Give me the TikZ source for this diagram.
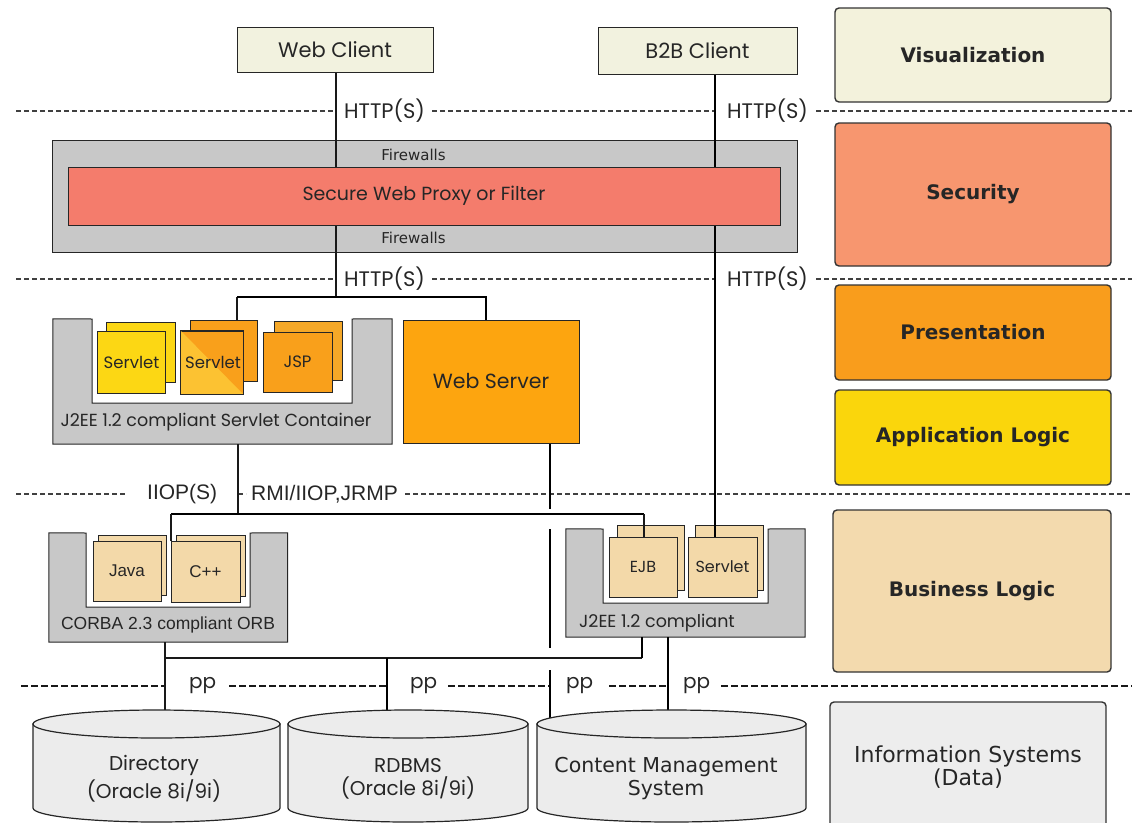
\documentclass[tikz,border=0pt]{standalone}
\usepackage{fontspec}
\setmainfont{Poppins}
\newfontfamily\lib{Liberation Sans}
\newfontfamily\dvs{DejaVu Sans}
\usetikzlibrary{calc}
\definecolor{cVis}{HTML}{F3F2DC}
\definecolor{cSec}{HTML}{F7966F}
\definecolor{cPres}{HTML}{F99D1C}
\definecolor{cApp}{HTML}{FAD60C}
\definecolor{cBus}{HTML}{F3DAAE}
\definecolor{cInfo}{HTML}{EDEDED}
\definecolor{cClient}{HTML}{F2F2DF}
\definecolor{cGray}{HTML}{C8C8C8}
\definecolor{cProxy}{HTML}{F47C6C}
\definecolor{cWS}{HTML}{FDA50F}
\definecolor{cYel}{HTML}{FCD714}
\definecolor{cYo}{HTML}{FCC232}
\definecolor{cOr}{HTML}{F9A01B}
\definecolor{cOrB}{HTML}{F5A828}
\definecolor{cWheat}{HTML}{F3D9A9}
\definecolor{cCyl}{HTML}{ECECEC}
\pgfdeclarelayer{bg}
\pgfdeclarelayer{mid}
\pgfsetlayers{bg,mid,main}
\newcommand{\dbcyl}[3]{%
  \path[fill=cCyl,draw=black!85,line width=1.2pt] (#2-#3,724) -- (#2-#3,808)
     arc[start angle=180,end angle=0,x radius=#3,y radius=14] -- (#2+#3,724) -- cycle;
  \path[fill=cCyl,draw=black!85,line width=1.2pt] (#2,724) ellipse [x radius=#3,y radius=14];
  \node[minimum width=2*#3,minimum height=84,inner sep=0pt] (#1) at (#2,766) {};
}
\begin{document}
\begin{tikzpicture}[x=1pt,y=-1pt,
  box/.style={draw=black!85,line width=1pt,inner sep=0pt},
  layerbox/.style={draw=black!80,line width=1.4pt,rounded corners=4pt,inner sep=0pt,
      text=black!85,font=\dvs\bfseries\fontsize{20}{24}\selectfont},
  sep/.style={draw=black!75,line width=1.1pt,dash pattern=on 5pt off 3pt},
  sepb/.style={draw=black!90,line width=2.6pt,dash pattern=on 7pt off 3pt},
  thinl/.style={draw=black!90,line width=1.4pt},
  medl/.style={draw=black!90,line width=1.9pt},
  thickl/.style={draw=black,line width=2.8pt},
  pop/.style={font=\fontsize{#1}{#1}\selectfont,text=black!85,inner sep=0pt},
  ari/.style={font=\lib\fontsize{#1}{#1}\selectfont,text=black!85,inner sep=0pt},
  dej/.style={font=\dvs\fontsize{#1}{#1}\selectfont,text=black!85,inner sep=0pt},
]
\useasboundingbox (0,0) rectangle (1132,822);
\begin{pgfonlayer}{bg}
\fill[white] (0,0) rectangle (1132,822);
% separators
\draw[sep] (16,111) -- (336,111);
\node[pop=21,anchor=west] (http1) at (344,111) {HTTP(S)};
\draw[sep] ([xshift=7pt]http1.east) -- (715,111);
\node[pop=21,anchor=west] (http2) at (727,111) {HTTP(S)};
\draw[sep] ([xshift=8pt]http2.east) -- (1132,111);
\draw[sep] (16,279) -- (336,279);
\node[pop=21,anchor=west] (http3) at (344,279) {HTTP(S)};
\draw[sep] ([xshift=7pt]http3.east) -- (715,279);
\node[pop=21,anchor=west] (http4) at (727,279) {HTTP(S)};
\draw[sep] ([xshift=8pt]http4.east) -- (1132,279);
\draw[sep] (16,494) -- (126,494);
\node[ari=21,anchor=west] (iiop) at (147,494) {IIOP(S)};
\draw[sep] (238,494) -- (246,494);
\node[ari=21,anchor=west] (rmi) at (251,494) {RMI/IIOP,JRMP};
\draw[sep] ([xshift=7pt]rmi.east) -- (1132,494);
\draw[sepb] (21,686) -- (165,686);
\node[pop=20,anchor=west] (pp1) at (189,686) {pp};
\draw[sepb] (229,686) -- (387,686);
\node[pop=20,anchor=west] (pp2) at (410,686) {pp};
\draw[sepb] (448,686) -- (550,686);
\node[pop=20,anchor=west] (pp3) at (566,686) {pp};
\draw[sepb] (609,686) -- (668,686);
\node[pop=20,anchor=west] (pp4) at (683,686) {pp};
\draw[sepb] (721,686) -- (1132,686);
% containers
\node[box,fill=cGray,minimum width=745,minimum height=112] (fwall) at (424.5,196) {};
\node[minimum width=339,minimum height=125,inner sep=0pt] (sc) at (222.5,381.5) {};
\draw[box,fill=cGray] (sc.north west) -- (92,319) -- (92,403) -- (352,403) -- (352,319)
   -- (sc.north east) -- (sc.south east) -- (sc.south west) -- cycle;
\node[minimum width=238.5,minimum height=109,inner sep=0pt] (corba) at (168.25,587.5) {};
\draw[box,fill=cGray] (corba.north west) -- (86,533) -- (86,607) -- (250,607) -- (250,533)
   -- (corba.north east) -- (corba.south east) -- (corba.south west) -- cycle;
\node[minimum width=239,minimum height=108,inner sep=0pt] (j2ee) at (685.5,583) {};
\draw[box,fill=cGray] (j2ee.north west) -- (603,529) -- (603,603) -- (768,603) -- (768,529)
   -- (j2ee.north east) -- (j2ee.south east) -- (j2ee.south west) -- cycle;
% back boxes
\node[box,fill=cYel,minimum width=69,minimum height=60] (s1b) at (140.5,352) {};
\node[box,fill=cOr,minimum width=67,minimum height=61] (s2b) at (223.5,350.5) {};
\node[box,fill=cOrB,minimum width=68,minimum height=59] (jspb) at (308,350.5) {};
\node[box,fill=cWheat,minimum width=68,minimum height=60] (javab) at (132,565) {};
\node[box,fill=cWheat,minimum width=69,minimum height=61] (cppb) at (210.5,565.5) {};
\node[box,fill=cWheat,minimum width=67,minimum height=65] (ejbb) at (650.5,557.5) {};
\node[box,fill=cWheat,minimum width=68,minimum height=65] (ejsb) at (729,557.5) {};
\end{pgfonlayer}

% right column
\node[layerbox,fill=cVis,minimum width=276,minimum height=94] (vis) at (973,55) {Visualization};
\node[layerbox,fill=cSec,minimum width=276,minimum height=143] (sec) at (973,194.5) {Security};
\node[layerbox,fill=cPres,minimum width=276,minimum height=95] (pres) at (973,332.5) {Presentation};
\node[layerbox,fill=cApp,minimum width=276,minimum height=95] (app) at (973,437.5) {Application Logic};
\node[layerbox,fill=cBus,minimum width=278,minimum height=162] (bus) at (972,591) {Business Logic};
\node[layerbox,fill=cInfo,minimum width=276,minimum height=130,dej=22,align=center] (info) at (968,767)
   {Information Systems\\[1pt](Data)};

% clients
\node[box,fill=cClient,minimum width=196,minimum height=45,pop=21] (webc) at (335,49.5) {Web Client};
\node[box,fill=cClient,minimum width=199,minimum height=47,pop=21] (b2b) at (697.5,50.5) {B2B Client};

% security
\node[box,fill=cProxy,minimum width=712,minimum height=58,pop=19] (proxy) at (424,196) {Secure Web Proxy or Filter};
\node[dej=15] (fw1) at (413.5,155) {Firewalls};
\node[dej=15] (fw2) at (413.5,238) {Firewalls};

% servlet container
\node[pop=17.5] (sclbl) at (216,422) {J2EE 1.2 compliant Servlet Container};
\node[box,fill=cYel,minimum width=68,minimum height=62,pop=16.5] (s1f) at (131.5,362.5) {Servlet};
\node[box,fill=cOr,minimum width=62,minimum height=63] (s2f) at (212,362.5) {};
\fill[cYo] (s2f.north west) -- (s2f.south east) -- (s2f.south west) -- cycle;
\draw[box] (s2f.north west) rectangle (s2f.south east);
\node[pop=16.5] (s2t) at (213,362.5) {Servlet};
\node[box,fill=cOr,minimum width=69,minimum height=60,pop=16.5] (jspf) at (297.5,362) {JSP};
\node[box,fill=cWS,minimum width=176,minimum height=123,pop=20.5] (ws) at (491,381.5) {Web Server};

% corba
\node[ari=17.5] (corbalbl) at (168,625) {CORBA 2.3 compliant ORB};
\node[box,fill=cWheat,minimum width=68,minimum height=60,ari=17] (javaf) at (127,571) {Java};
\node[box,fill=cWheat,minimum width=69,minimum height=61,ari=17] (cppf) at (205.5,571.5) {C++};

% j2ee
\node[pop=17.5] (j2lbl) at (657,623) {J2EE 1.2 compliant};
\node[box,fill=cWheat,minimum width=68,minimum height=60,pop=16] (ejbf) at (643,567) {EJB};
\node[box,fill=cWheat,minimum width=69,minimum height=60,pop=16] (ejsf) at (722.5,567) {Servlet};

% data stores
\dbcyl{dir}{156.5}{123.5}
\dbcyl{rdb}{408}{120}
\dbcyl{cms}{671.5}{134.5}
\node[pop=20,align=center] (dirt) at (154,778.5) {Directory\\[3pt](Oracle 8i/9i)};
\node[pop=20,align=center] (rdbt) at (408,778.5) {RDBMS\\[3pt](Oracle 8i/9i)};
\node[dej=20.5,align=center] (cmst) at (666,778.5) {Content Management\\[2.5pt]System};

% connectors
\begin{pgfonlayer}{mid}
\coordinate (j1) at (336,297);
\coordinate (b1a) at (237,297);
\coordinate (b1b) at (486,297);
\draw[thinl] (webc.south -| j1) -- (j1);
\draw[thinl] (b1a) -- (b1a |- s2b.north);
\draw[thickl] (b1a) -- (b1b) -- (b1b |- ws.north);
\coordinate (xb) at (715,0);
\draw[thickl] (b2b.south -| xb) -- (ejsf.north -| xb);
\coordinate (b2a) at (171,514);
\coordinate (b2c) at (238,514);
\coordinate (b2b) at (644,514);
\draw[thinl] (sc.south -| b2c) -- (b2c);
\draw[thickl] (b2a) -- (b2b);
\draw[thinl] (b2a) -- (b2a |- cppf.north);
\draw[thinl] (b2b) -- (b2b |- ejbf.north);
\coordinate (xs) at (550,0);
\coordinate (g1) at (550,509);
\coordinate (g2) at (550,529);
\coordinate (g3) at (550,648);
\coordinate (g4) at (550,670);
\draw[thickl] (ws.south -| xs) -- (g1);
\draw[thickl] (g2) -- (g3);
\draw[thickl] (g4) -- (xs |- cms.north);
\coordinate (b3a) at (165,658);
\coordinate (b3b) at (642,658);
\coordinate (b3c) at (387,658);
\coordinate (xc) at (668,0);
\draw[thinl] (corba.south -| b3a) -- (b3a |- dir.north);
\draw[medl] (b3a) -- (b3b);
\draw[thickl] (b3b) -- (b3b |- j2ee.south);
\draw[thickl] (b3c) -- (b3c |- rdb.north);
\draw[thickl] (j2ee.south -| xc) -- (xc |- cms.north);
\end{pgfonlayer}
\end{tikzpicture}
\end{document}
